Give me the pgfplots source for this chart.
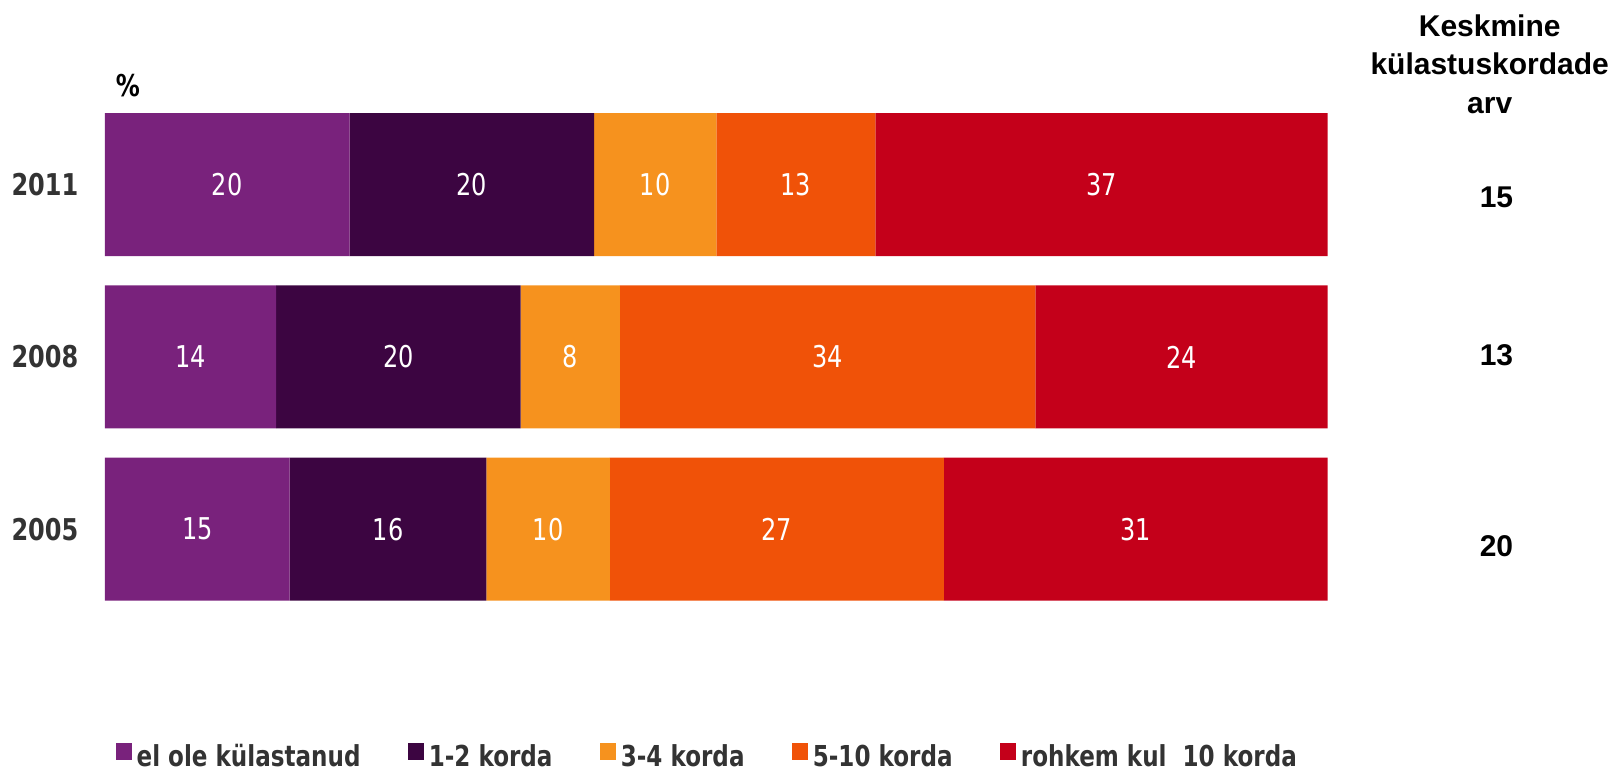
\documentclass[border=0pt]{standalone}
\usepackage{pgfplots}
\pgfplotsset{compat=1.18}
\usepackage{fontspec}
\newfontfamily\dvs[FakeStretch=0.8]{DejaVu Sans}
\newfontfamily\arialf{Liberation Sans}
\definecolor{cA}{HTML}{79227C}
\definecolor{cB}{HTML}{3C0541}
\definecolor{cC}{HTML}{F6921E}
\definecolor{cD}{HTML}{F05208}
\definecolor{cE}{HTML}{C4001A}
\definecolor{txt}{HTML}{333333}
\pgfplotstableread{
y  a     b     c     d     e
0  15.1  16.1  10.1  27.3  31.4
1  14.0  20.0  8.1   34.0  23.9
2  20.0  20.0  10.0  13.0  37.0
}\data
\begin{document}
\begin{tikzpicture}
\path (0,0) rectangle (486pt,231.3pt);
\begin{axis}[
  at={(31.5pt,46.65pt)}, anchor=south west,
  scale only axis, width=366.9pt, height=155.1pt,
  xbar stacked, bar width=0.83,
  xmin=0, xmax=100, ymin=-0.5, ymax=2.5,
  ytick={0,1,2}, yticklabels={2005,2008,2011},
  xtick=\empty,
  axis line style={draw=none},
  major tick length=0pt,
  clip=false,
  yticklabel style={anchor=east, inner sep=0pt, xshift=-7.8pt,
    font=\dvs\bfseries\fontsize{9pt}{10.8pt}\selectfont, text=txt},
  /pgf/number format/assume math mode=true,
  nodes near coords={\pgfmathprintnumber[fixed,precision=0]{\pgfplotspointmeta}},
  every node near coord/.append style={anchor=center, text=white,
    font=\dvs\fontsize{9pt}{10.8pt}\selectfont},
  legend columns=5,
  legend style={draw=none, fill=none, inner sep=0pt, outer sep=0pt,
    at={(0.009,-0.2747)}, anchor=west,
    font=\dvs\bfseries\fontsize{8.65pt}{10pt}\selectfont, text=txt,
    nodes={inner sep=0pt},
    /tikz/every odd column/.append style={column sep=1.5pt},
    /tikz/every even column/.append style={column sep=14.3pt}},
  legend image code/.code={\fill[#1] (0pt,-0.6pt) rectangle (4.7pt,4.5pt);},
]
\addplot[fill=cA, draw=none] table[x=a, y=y] {\data};
\addlegendentry{el ole külastanud}
\addplot[fill=cB, draw=none] table[x=b, y=y] {\data};
\addlegendentry{1-2 korda}
\addplot[fill=cC, draw=none] table[x=c, y=y] {\data};
\addlegendentry{3-4 korda}
\addplot[fill=cD, draw=none] table[x=d, y=y] {\data};
\addlegendentry{5-10 korda}
\addplot[fill=cE, draw=none] table[x=e, y=y] {\data};
\addlegendentry{rohkem kul\ \ 10 korda}
\node[font=\dvs\bfseries\fontsize{9pt}{10.8pt}\selectfont] at (axis cs:1.88,2.573) {\%};
\node[align=center, font=\arialf\bfseries\fontsize{9pt}{11.6pt}\selectfont] at (axis cs:113.25,2.70) {Keskmine\\külastuskordade\\arv};
\node[font=\arialf\bfseries\fontsize{9pt}{10.8pt}\selectfont] at (axis cs:113.8,1.924) {15};
\node[font=\arialf\bfseries\fontsize{9pt}{10.8pt}\selectfont] at (axis cs:113.8,1.012) {13};
\node[font=\arialf\bfseries\fontsize{9pt}{10.8pt}\selectfont] at (axis cs:113.8,-0.099) {20};
\end{axis}
\end{tikzpicture}
\end{document}
